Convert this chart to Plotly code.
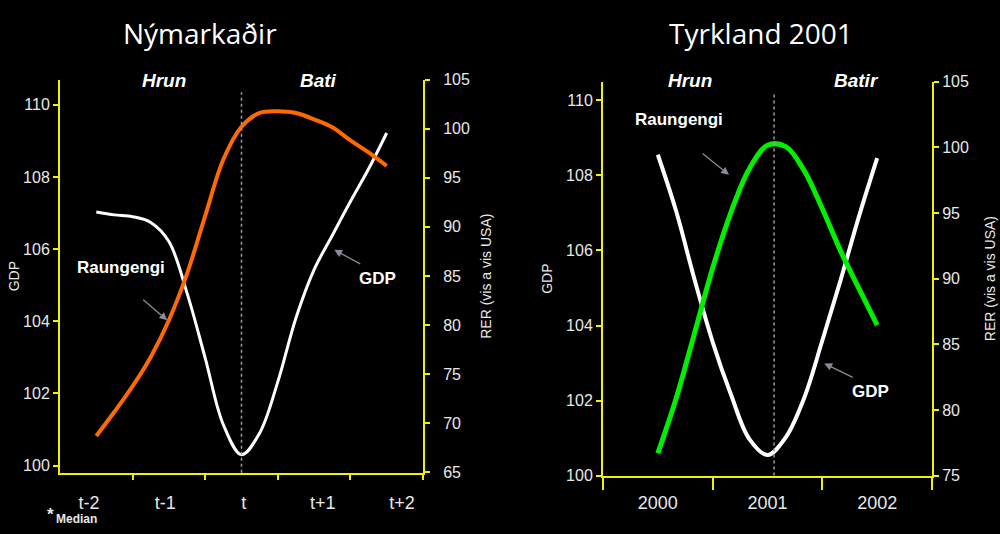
import plotly.graph_objects as go

# ---------------- data ----------------
left_periods = ["t-2", "t-1", "t", "t+1", "t+2"]
left_x = [0, 0.25, 0.5, 0.75, 1, 1.25, 1.5, 1.75, 2, 2.25, 2.5, 2.75, 3, 3.25, 3.5, 3.75, 4]
left_gdp = [107.03, 106.95, 106.90, 106.74, 106.21, 104.78, 102.98, 101.13, 100.30, 100.90,
            102.32, 104.09, 105.43, 106.38, 107.32, 108.22, 109.22]
left_rer = [68.7, 71.16, 73.77, 76.75, 80.49, 85.24, 91.13, 96.86, 100.2, 101.61,
            101.77, 101.6, 100.95, 100.14, 98.82, 97.58, 96.21]

right_years = ["2000", "2001", "2002"]
right_x = [0, 0.1667, 0.3333, 0.5, 0.6667, 0.8333, 1, 1.1667, 1.3333, 1.5, 1.6667, 1.8333, 2]
right_gdp = [108.55, 107.05, 105.24, 103.56, 102.16, 100.98, 100.55, 101.02, 102.06,
             103.6, 105.21, 106.9, 108.46]
right_rer = [76.7, 80.87, 85.81, 90.81, 95.05, 98.35, 100.15, 100.05, 98.24, 95.32,
             92.1, 89.25, 86.45]

left_gdp_ticks = [100, 102, 104, 106, 108, 110]
left_rer_ticks = [65, 70, 75, 80, 85, 90, 95, 100, 105]
right_gdp_ticks = [100, 102, 104, 106, 108, 110]
right_rer_ticks = [75, 80, 85, 90, 95, 100, 105]

# ---------------- style ----------------
W, H = 1000, 534
YEL = "#F2F200"
TXT = "#E8E8E8"
ARROW = "#8A8A98"
FONT = "Liberation Sans, Arial, sans-serif"


def px(x):
    return x / W


def py(y):
    return 1 - y / H


fig = go.Figure()

fig.add_trace(go.Scatter(x=left_x, y=left_gdp, xaxis="x", yaxis="y", mode="lines",
                         line=dict(color="white", width=3, shape="spline"), name="GDP"))
fig.add_trace(go.Scatter(x=left_x, y=left_rer, xaxis="x", yaxis="y2", mode="lines",
                         line=dict(color="#FF6A00", width=4, shape="spline"), name="Raungengi"))
fig.add_trace(go.Scatter(x=right_x, y=right_gdp, xaxis="x2", yaxis="y3", mode="lines",
                         line=dict(color="white", width=4, shape="spline"), name="GDP"))
fig.add_trace(go.Scatter(x=right_x, y=right_rer, xaxis="x2", yaxis="y4", mode="lines",
                         line=dict(color="#00F000", width=5, shape="spline"), name="Raungengi"))

tickfont_y = dict(family=FONT, size=16, color=TXT)
tickfont_x = dict(family=FONT, size=18, color=TXT)
titlefont = dict(family=FONT, size=14, color=TXT)

left_label_pos = [-0.1, 0.95, 2.03, 3.12, 4.21]

fig.update_layout(
    width=W, height=H,
    margin=dict(l=0, r=0, t=0, b=0),
    paper_bgcolor="black", plot_bgcolor="black",
    showlegend=False,
    xaxis=dict(domain=[0.06, 0.423], anchor="y", range=[-0.5, 4.5],
               tickmode="array", tickvals=left_label_pos, ticktext=left_periods,
               ticks="", tickfont=tickfont_x, ticklabelstandoff=13,
               showline=True, linecolor=YEL, linewidth=2, showgrid=False, zeroline=False,
               minor=dict(tickmode="array", tickvals=[0.5, 1.5, 2.5, 3.5, 4.5],
                          ticks="outside", ticklen=5, tickcolor=YEL, tickwidth=2, showgrid=False)),
    yaxis=dict(domain=[py(480), py(74)], anchor="x", range=[99.8, 110.7],
               tickmode="array", tickvals=left_gdp_ticks, ticks="outside", ticklen=5,
               tickcolor=YEL, tickwidth=2, tickfont=tickfont_y,
               showline=True, linecolor=YEL, linewidth=2, showgrid=False, zeroline=False,
               title=dict(text="GDP", font=titlefont, standoff=0)),
    yaxis2=dict(overlaying="y", side="right", anchor="x", range=[64.95, 105],
                tickmode="array", tickvals=left_rer_ticks, ticks="outside", ticklen=5,
                tickcolor=YEL, tickwidth=2, tickfont=tickfont_y, ticklabelstandoff=10,
                showline=True, linecolor=YEL, linewidth=2, showgrid=False, zeroline=False,
                title=dict(text="RER (vis a vis USA)", font=titlefont, standoff=12)),
    yaxis5=dict(overlaying="y", side="right", anchor="x", range=[64.95, 105],
                tickmode="array", tickvals=left_rer_ticks, ticks="inside", ticklen=5,
                tickcolor=YEL, tickwidth=2, showticklabels=False,
                showline=False, showgrid=False, zeroline=False),
    xaxis2=dict(domain=[0.603, 0.932], anchor="y3", range=[-0.5, 2.5],
                tickmode="array", tickvals=[0, 1, 2], ticktext=right_years,
                ticks="", tickfont=tickfont_x, ticklabelstandoff=10,
                showline=True, linecolor=YEL, linewidth=2, showgrid=False, zeroline=False,
                minor=dict(tickmode="array", tickvals=[-0.5, 0.5, 1.5, 2.5],
                           ticks="outside", ticklen=12, tickcolor=YEL, tickwidth=2, showgrid=False)),
    yaxis3=dict(domain=[py(483), py(76)], anchor="x2", range=[100, 110.5],
                tickmode="array", tickvals=right_gdp_ticks, ticks="outside", ticklen=5,
                tickcolor=YEL, tickwidth=2, tickfont=tickfont_y,
                showline=True, linecolor=YEL, linewidth=2, showgrid=False, zeroline=False,
                title=dict(text="GDP", font=titlefont, standoff=10)),
    yaxis4=dict(overlaying="y3", side="right", anchor="x2", range=[75, 105],
                tickmode="array", tickvals=right_rer_ticks, ticks="outside", ticklen=5,
                tickcolor=YEL, tickwidth=2, tickfont=tickfont_y,
                showline=True, linecolor=YEL, linewidth=2, showgrid=False, zeroline=False,
                title=dict(text="RER (vis a vis USA)", font=titlefont, standoff=17)),
)

# dotted crisis markers
fig.add_shape(type="line", xref="x", yref="y domain", x0=2, x1=2, y0=0, y1=0.968,
              line=dict(color="#9A9AA8", width=1.5, dash="dot"))
fig.add_shape(type="line", xref="x2", yref="y3 domain", x0=1.06, x1=1.06, y0=0, y1=0.973,
              line=dict(color="#9A9AA8", width=1.5, dash="dot"))


def label(text, x, y, font, xanchor="center"):
    fig.add_annotation(text=text, x=px(x), y=py(y), xref="paper", yref="paper",
                       xanchor=xanchor, yanchor="middle", showarrow=False, font=font)


# titles
title_font = dict(family="Open Sans, DejaVu Sans, sans-serif", size=28, color="white")
label("Nýmarkaðir", 200, 26, title_font)
label("Tyrkland 2001", 761, 26, title_font)

phase_font = dict(family=FONT, size=19, color="white")
for txt, xx in [("Hrun", 164), ("Bati", 318), ("Hrun", 690), ("Batir", 856)]:
    label(f"<b><i>{txt}</i></b>", xx, 75, phase_font)

lab_font = dict(family=FONT, size=17, color="white")
for txt, xx, yy in [("Raungengi", 121, 268), ("GDP", 377, 279),
                    ("Raungengi", 679, 115), ("GDP", 870, 396)]:
    label(f"<b>{txt}</b>", xx, yy, lab_font)

# arrows
arrows = [
    ("x", "y2", 0.978, 80.49, 0.625, 82.71),
    ("x", "y", 3.278, 105.98, 3.656, 105.57),
    ("x2", "y4", 0.649, 97.9, 0.394, 99.61),
    ("x2", "y3", 1.518, 102.99, 1.791, 102.6),
]
for xr, yr, hx, hy, tx, ty in arrows:
    fig.add_annotation(x=hx, y=hy, xref=xr, yref=yr, ax=tx, ay=ty, axref=xr, ayref=yr,
                       text="", showarrow=True, arrowhead=2, arrowsize=1.2, arrowwidth=1.3,
                       arrowcolor=ARROW)

# footnote
label("<b>*</b>", 50, 523, dict(family=FONT, size=17, color=TXT))
label("<b>Median</b>", 54, 528, dict(family=FONT, size=12, color=TXT), xanchor="left")

fig.write_html("out.html", config={"displayModeBar": False},
               post_script="document.body.style.margin='0';document.body.style.overflow='hidden';")
